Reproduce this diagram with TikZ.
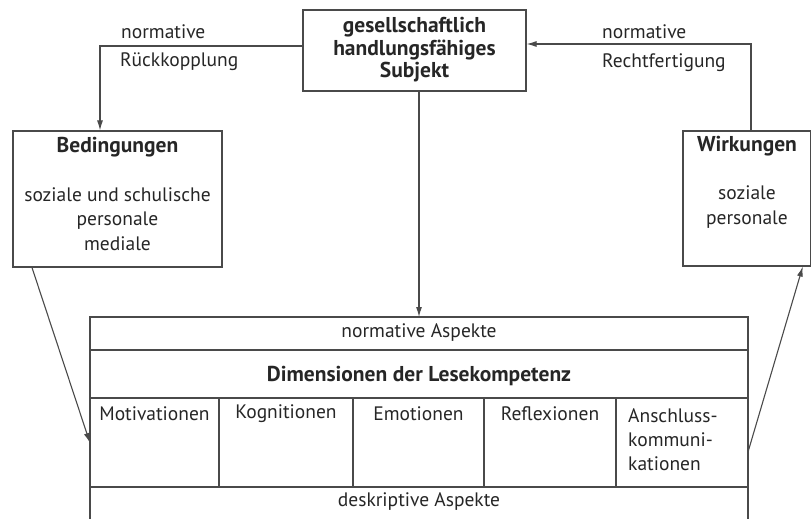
\documentclass[tikz,border=0pt]{standalone}
\usepackage{fontspec}
\setmainfont{PT Sans}
\usetikzlibrary{arrows.meta}
\definecolor{ln}{HTML}{4a4a4a}
\definecolor{tx}{HTML}{262626}
\begin{document}
\begin{tikzpicture}[x=1pt,y=-1pt,
  every node/.style={text=tx, font=\fontsize{19.5}{24}\selectfont, inner sep=0pt},
  btxt/.style={font=\bfseries\fontsize{21.5}{22.5}\selectfont},
  box/.style={draw=ln, line width=1.2pt, inner sep=0pt},
  conn/.style={draw=ln, line width=1.1pt, -{Latex[length=10pt,width=6pt]}},
  tline/.style={draw=ln, line width=1.2pt}]
\useasboundingbox (0,0) rectangle (812,519);

% top box
\node[box, minimum width=223pt, minimum height=81pt] (subj) at (414.5,50.5) {};
\node[btxt, align=center] (subjt) at (414.5,50) {gesellschaftlich\\handlungsfähiges\\Subjekt};

% Bedingungen
\node[box, minimum width=209pt, minimum height=136pt] (bed) at (117.5,199) {};
\node[btxt] (bedt) at (117.5,147) {Bedingungen};
\node[align=center, font=\fontsize{19.5}{24.5}\selectfont] (bedx) at (117.5,219) {soziale und schulische\\personale\\mediale};

% Wirkungen
\node[box, minimum width=127.5pt, minimum height=135pt] (wir) at (746.75,198.5) {};
\node[btxt] (wirt) at (747,146) {Wirkungen};
\node[align=center, font=\fontsize{19.5}{24.5}\selectfont] (wirx) at (747,207) {soziale\\personale};

% feedback labels
\node[anchor=west] (l1) at (121,32) {normative};
\node[anchor=west] (l2) at (120,62) {Rückkopplung};
\node[anchor=west] (r1) at (602,32) {normative};
\node[anchor=west] (r2) at (602,63) {Rechtfertigung};

% table
\coordinate (ttop) at (419,317);
\coordinate (tl) at (90,443);
\coordinate (tr) at (748,452);
\draw[tline] (90,519) -- (90,317) -- (748,317) -- (748,519);
\draw[tline] (90,350) -- (748,350);
\draw[tline] (90,398) -- (748,398);
\draw[tline] (90,487) -- (748,487);
\foreach \xx in {219,353,484,616} \draw[tline] (\xx,398) -- (\xx,487);

\node (na) at (419,333) {normative Aspekte};
\node[btxt] (dim) at (419,376) {Dimensionen der Lesekompetenz};
\node (c1) at (154.5,414) {Motivationen};
\node (c2) at (286,414) {Kognitionen};
\node (c3) at (418.5,414) {Emotionen};
\node (c4) at (550,414) {Reflexionen};
\node[align=left, anchor=west, font=\fontsize{19.5}{24}\selectfont] (c5) at (628,439.5) {Anschluss-\\kommuni-\\kationen};
\node (da) at (419,502) {deskriptive Aspekte};

% connectors
\draw[conn] ([yshift=4.5pt]subj.west) -| ([xshift=-17.5pt]bed.north);
\draw[conn] ([xshift=4.25pt]wir.north) |- ([yshift=6.5pt]subj.east);
\draw[conn] ([xshift=4.5pt]subj.south) -- (ttop);
\draw[conn] ([xshift=-85.5pt]bed.south) -- (tl);
\draw[conn] (tr) -- ([xshift=56pt]wir.south);
\end{tikzpicture}
\end{document}
